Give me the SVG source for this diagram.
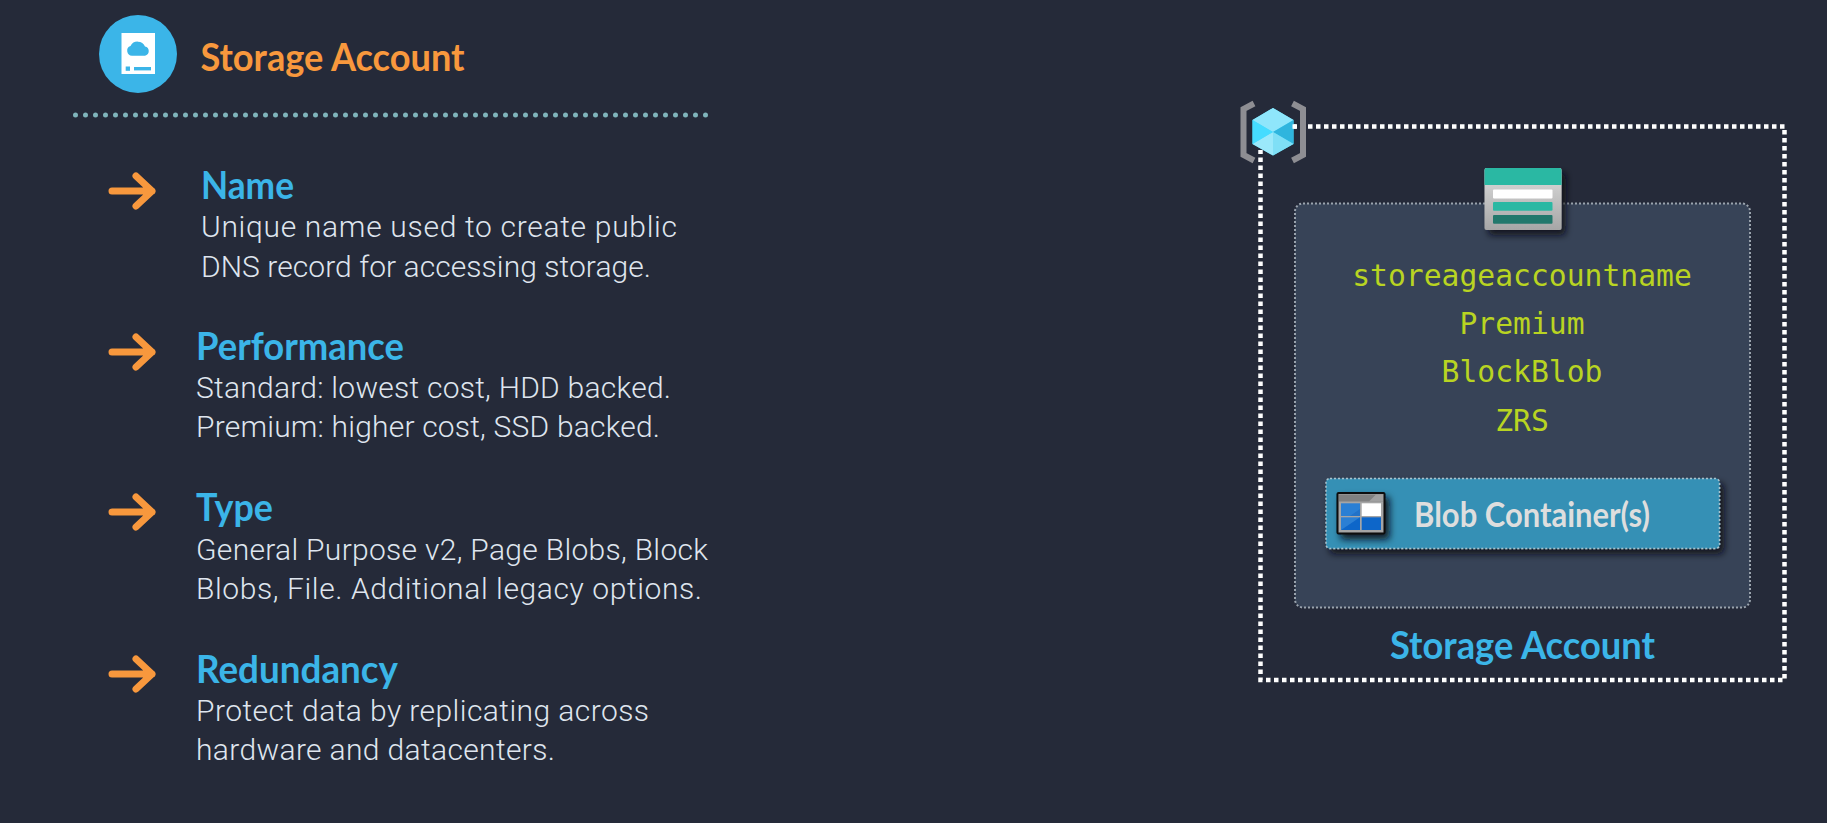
<svg xmlns="http://www.w3.org/2000/svg" width="1827" height="823" viewBox="0 0 1827 823">
<style>
.h{font-family:"Lato","Noto Sans",sans-serif;font-weight:700;fill:#3bb5e8;font-size:38px}
.b{font-family:"Roboto","Noto Sans",sans-serif;font-weight:300;font-size:30px;fill:#dfe5ee}
.m{font-family:"DejaVu Sans Mono","Liberation Mono",monospace;font-size:29.7px;fill:#b9d422;text-anchor:middle}
.ar{fill:none;stroke:#f8983d;stroke-width:7;stroke-linecap:round;stroke-linejoin:round}
</style>
<defs>
<path id="arrow" class="ar" d="M112 0H152M136 -15L152 0L136 15"/>
<filter id="sh" x="-20%" y="-20%" width="150%" height="150%"><feDropShadow dx="4" dy="5" stdDeviation="3.500" flood-color="#0c0f18" flood-opacity=".9"/></filter>
<linearGradient id="gr" x1="0" y1="0" x2="0" y2="1"><stop offset="0" stop-color="#dedede"/><stop offset="1" stop-color="#a6a6a6"/></linearGradient>
</defs>
<rect width="1827" height="823" fill="#252a39"/>

<g id="header">
<circle cx="138" cy="54" r="39" fill="#3bb5e8"/>
<rect x="121.500" y="33" width="33.500" height="41" fill="#fff"/>
<path d="M132 55.700a5 5 0 0 1 -1.500 -9.700a8 8 0 0 1 14.500 .5a4.700 4.700 0 0 1 0 9.200z" fill="#3bb5e8"/>
<rect x="125.700" y="66.500" width="4.300" height="4.300" fill="#3bb5e8"/><rect x="134" y="67" width="17" height="3.400" fill="#3bb5e8"/>
<text class="h" x="200.500" y="70.500" style="fill:#f8983d" textLength="264" lengthAdjust="spacingAndGlyphs">Storage Account</text>
<line x1="75.500" y1="115" x2="710" y2="115" stroke="#7fb4bb" stroke-width="5" stroke-linecap="round" stroke-dasharray="0 10"/>
</g>

<g id="item-name">
<use href="#arrow" y="191"/>
<text class="h" x="201" y="199" textLength="93" lengthAdjust="spacingAndGlyphs">Name</text>
<text class="b" x="201" y="237" textLength="476">Unique name used to create public</text>
<text class="b" x="201" y="276.500" textLength="450">DNS record for accessing storage.</text>
</g>
<g id="item-performance">
<use href="#arrow" y="352"/>
<text class="h" x="196" y="360" textLength="208" lengthAdjust="spacingAndGlyphs">Performance</text>
<text class="b" x="196" y="398" textLength="475">Standard: lowest cost, HDD backed.</text>
<text class="b" x="196" y="437" textLength="464">Premium: higher cost, SSD backed.</text>
</g>
<g id="item-type">
<use href="#arrow" y="512"/>
<text class="h" x="196" y="520.500" textLength="77" lengthAdjust="spacingAndGlyphs">Type</text>
<text class="b" x="196" y="560" textLength="512">General Purpose v2, Page Blobs, Block</text>
<text class="b" x="196" y="598.500" textLength="506">Blobs, File. Additional legacy options.</text>
</g>
<g id="item-redundancy">
<use href="#arrow" y="674"/>
<text class="h" x="196" y="682.500" textLength="202" lengthAdjust="spacingAndGlyphs">Redundancy</text>
<text class="b" x="196" y="720.500" textLength="453">Protect data by replicating across</text>
<text class="b" x="196" y="760" textLength="359">hardware and datacenters.</text>
</g>

<g id="connectors">
<path d="M1292 126.500H1784.500V680H1260.500V150" fill="none" stroke="#fff" stroke-width="4.500" stroke-dasharray="4.500 3.500"/>
</g>

<g id="storage-box">
<rect x="1295" y="203.500" width="455" height="404" rx="8" fill="#374357" stroke="#9aa3ad" stroke-width="2" stroke-dasharray="2 2"/>
<text class="m" x="1522" y="285.500">storeageaccountname</text>
<text class="m" x="1522" y="333.500">Premium</text>
<text class="m" x="1522" y="382">BlockBlob</text>
<text class="m" x="1522" y="430.500">ZRS</text>
<text class="h" x="1390" y="659" textLength="265" lengthAdjust="spacingAndGlyphs">Storage Account</text>
</g>

<g id="table-icon" filter="url(#sh)">
<rect x="1484.500" y="168" width="77" height="62" rx="2" fill="url(#gr)"/>
<path d="M1484.500 185V170a2 2 0 0 1 2-2h73a2 2 0 0 1 2 2v15z" fill="#2cb8a3"/>
<rect x="1493" y="189.500" width="59.500" height="9" rx="1" fill="#fff"/>
<rect x="1493" y="202" width="59.500" height="8.800" rx="1" fill="#2cb8a3"/>
<rect x="1493" y="215" width="59.500" height="8.800" rx="1" fill="#23786c"/>
</g>

<g id="blob-container">
<rect x="1326" y="478.500" width="393.500" height="70" rx="4" fill="#3690b5" stroke="#a9c4cf" stroke-width="1.500" stroke-dasharray="2 2" filter="url(#sh)"/>
<g filter="url(#sh)">
<rect x="1337.500" y="493" width="47" height="40.500" rx="1" fill="#a5a5a5" stroke="#0b0b0b" stroke-width="2"/>
<rect x="1339" y="494.500" width="44" height="7" fill="#808080"/>
<path d="M1369 501.500L1376 494.500H1383V501.500z" fill="#a0a0a0"/>
<rect x="1341" y="503.300" width="19" height="12.700" fill="#2b7fd4"/>
<rect x="1361.700" y="503.300" width="19.300" height="12.700" fill="#fff"/>
<rect x="1341" y="517.300" width="19" height="12.700" fill="#2b7fd4"/>
<path d="M1341 530L1360 517.300V530z" fill="#0f66c9"/>
<path d="M1350 516L1360 509V516z" fill="#2272c8"/>
<rect x="1361.700" y="517.300" width="19.300" height="12.700" fill="#0f66c9"/>
</g>
<text x="1414" y="526.500" font-family="Lato,'Noto Sans',sans-serif" font-weight="700" font-size="34" fill="#dedede" textLength="236" lengthAdjust="spacingAndGlyphs">Blob Container(s)</text>
</g>

<g id="resource-group-icon">
<path d="M1254 103.500L1243.500 109V155L1254 160.500" fill="none" stroke="#8e8e93" stroke-width="6"/>
<path d="M1292.500 103.500L1303 109V155L1292.500 160.500" fill="none" stroke="#8e8e93" stroke-width="6"/>
<path d="M1273 108L1293.500 120V144L1273 155.500L1252.500 144V120z" fill="#50d9f9"/>
<path d="M1273 108L1293.500 120L1273 132L1252.500 120z" fill="#8fe6fb"/>
<path d="M1293.500 120V144L1273 132z" fill="#2fb5de"/>
<path d="M1273 132L1293.500 144L1273 155.500z" fill="#7fdff6"/>
<path d="M1273 132V155.500L1252.500 144z" fill="#9be9fb"/>
<path d="M1252.500 120L1273 132L1252.500 144z" fill="#45dcff"/>
<rect x="1292.500" y="124.300" width="4.500" height="4.500" fill="#fff"/>
</g>
</svg>
